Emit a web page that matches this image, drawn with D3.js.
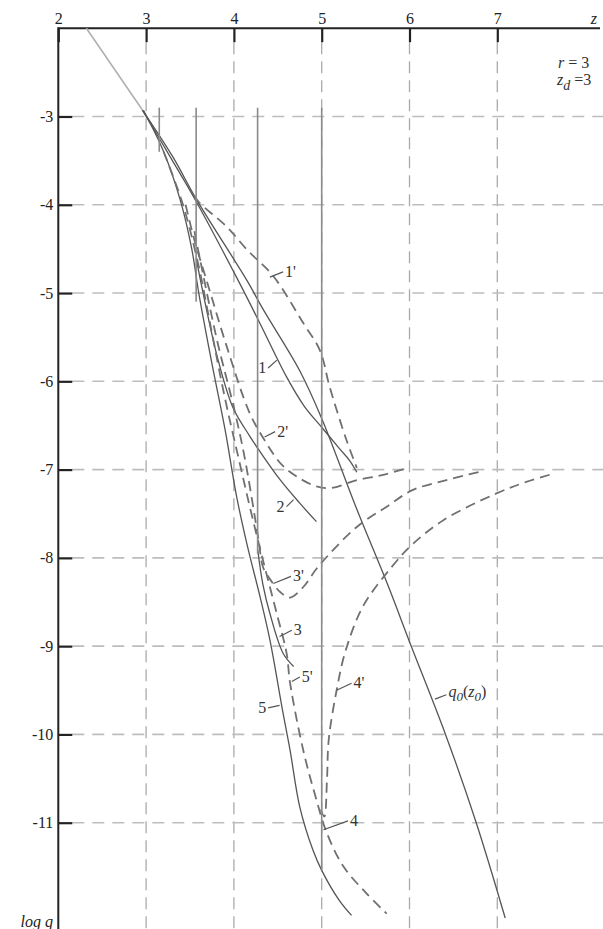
<!DOCTYPE html>
<html>
<head>
<meta charset="utf-8">
<script src="https://cdn.jsdelivr.net/npm/d3@7"></script>
<style>
  html, body { margin: 0; background: #fff; }
  svg { display: block; font-family: "Liberation Serif", "Times New Roman", serif; }
</style>
</head>
<body>
<div id="chart"></div>
<script>
/* log q vs z trajectories, r = 3, z_d = 3 */

const zTicks = [2, 3, 4, 5, 6, 7];
const logqTicks = [-3, -4, -5, -6, -7, -8, -9, -10, -11];

// [z, log q] points
const q0Lead = [[2.32, -2.0], [2.96, -2.93]];
const q0Curve = [[2.96, -2.93], [3.3, -3.45], [3.58, -3.95], [4.15, -4.86], [4.33, -5.18], [4.75, -5.88],
  [5.0, -6.42], [5.4, -7.45], [5.75, -8.3], [6.0, -8.95], [6.41, -10.0], [6.76, -11.0], [7.09, -12.08]];
const curve1 = [[2.96, -2.93], [3.3, -3.5], [3.58, -3.98], [4.05, -4.86], [4.30, -5.35], [4.60, -5.95],
  [4.8, -6.28], [5.0, -6.52], [5.2, -6.76], [5.32, -6.9], [5.40, -7.03]];
const curve1d = [[3.55, -3.9], [3.61, -3.98], [3.92, -4.25], [4.15, -4.51], [4.45, -4.81], [4.79, -5.34],
  [4.98, -5.65], [5.09, -6.06], [5.28, -6.66], [5.40, -6.98]];
const curve2 = [[3.57, -4.6], [3.62, -4.86], [3.81, -5.72], [3.99, -6.3], [4.18, -6.62], [4.3, -6.8],
  [4.53, -7.12], [4.75, -7.38], [4.94, -7.59]];
const curve2d = [[3.45, -4.0], [3.55, -4.4], [3.69, -4.86], [3.92, -5.61], [4.18, -6.36], [4.37, -6.70],
  [4.55, -6.95], [4.75, -7.10], [4.94, -7.19], [5.1, -7.21], [5.4, -7.12], [5.7, -7.06], [5.95, -6.99]];
const curve3 = [[4.27, -7.9], [4.33, -8.3], [4.41, -8.63], [4.56, -9.08], [4.68, -9.23]];
const curve3d = [[3.55, -4.3], [3.8, -5.5], [4.0, -6.3], [4.12, -6.85], [4.28, -7.79], [4.33, -8.1],
  [4.41, -8.24], [4.53, -8.39], [4.64, -8.45], [4.79, -8.33], [4.96, -8.1], [5.40, -7.65],
  [5.74, -7.42], [6.04, -7.23], [6.42, -7.12], [6.82, -7.02]];
const curve4d = [[4.99, -10.85], [5.03, -10.93], [5.06, -10.52], [5.08, -10.06], [5.17, -9.5],
  [5.27, -9.06], [5.47, -8.55], [5.80, -8.10], [6.03, -7.85], [6.39, -7.57], [6.99, -7.27],
  [7.33, -7.14], [7.66, -7.04]];
const curve5 = [[2.97, -2.93], [3.2, -3.4], [3.39, -3.95], [3.52, -4.5], [3.6, -5.0], [3.75, -5.8],
  [3.9, -6.55], [4.03, -7.3], [4.15, -7.85], [4.3, -8.45], [4.41, -8.93], [4.56, -9.76], [4.64, -10.18],
  [4.75, -10.82], [4.9, -11.31], [5.0, -11.54], [5.2, -11.88], [5.34, -12.05]];
const curve5d = [[3.2, -3.4], [3.42, -4.0], [3.6, -4.7], [3.72, -5.3], [3.9, -6.2], [4.06, -6.9],
  [4.2, -7.5], [4.35, -8.1], [4.48, -8.6], [4.60, -9.08], [4.64, -9.42], [4.79, -10.18], [4.92, -10.67],
  [5.06, -11.12], [5.25, -11.5], [5.51, -11.8], [5.74, -12.03]];

// vertical starts of the trajectories: z, top, bottom
const verticals = [[3.15, -2.9, -3.4], [3.57, -2.9, -5.1], [4.27, -2.9, -7.95], [5.0, -2.9, -11.54]];

// curve labels: text, point on curve, end of leader, side
const curveLabels = [
  ["1'", [4.41, -4.82], [4.56, -4.76], "start"],
  ["1", [4.49, -5.76], [4.39, -5.85], "end"],
  ["2'", [4.35, -6.63], [4.47, -6.57], "start"],
  ["2", [4.68, -7.34], [4.60, -7.42], "end"],
  ["3'", [4.45, -8.29], [4.65, -8.21], "start"],
  ["3", [4.52, -8.89], [4.66, -8.82], "start"],
  ["5'", [4.66, -9.40], [4.75, -9.35], "start"],
  ["4'", [5.17, -9.50], [5.34, -9.42], "start"],
  ["5", [4.52, -9.67], [4.39, -9.70], "end"],
  ["4", [5.02, -11.08], [5.30, -10.98], "start"]
];
const q0Label = [[6.29, -9.60], [6.42, -9.55]];

const W = 603, H = 929;
const FONT = "Liberation Serif";
const svg = d3.select("#chart").append("svg").attr("width", W).attr("height", H);
svg.append("rect").attr("width", W).attr("height", H).attr("fill", "#fff");

const x = d3.scaleLinear().domain([2, 7]).range([58.3, 497.3]);
const y = d3.scaleLinear().domain([-2, -11]).range([28.2, 822.7]);
const x0 = x(2), y0 = y(-2);

// --- grid ---
svg.append("g").selectAll("line")
  .data(zTicks.filter(d => d > 2))
  .join("line")
  .attr("x1", d => x(d)).attr("x2", d => x(d))
  .attr("y1", y0 + 14).attr("y2", H)
  .attr("stroke", "#aaa").attr("stroke-width", 1.3)
  .attr("stroke-dasharray", "12,7");

svg.append("g").selectAll("line")
  .data(logqTicks)
  .join("line")
  .attr("x1", x0 + 14).attr("x2", W)
  .attr("y1", d => y(d)).attr("y2", d => y(d))
  .attr("stroke", "#bdbdbd").attr("stroke-width", 1.6)
  .attr("stroke-dasharray", "12,8");

// --- axes ---
const axTop = svg.append("g").attr("transform", `translate(0,${y0})`)
  .call(d3.axisTop(x).tickValues(zTicks).tickSize(-14).tickPadding(4).tickFormat(d3.format("d")));
axTop.attr("font-family", FONT);
axTop.select(".domain").remove();
axTop.selectAll(".tick line").attr("stroke", "#222").attr("stroke-width", 2.2);
axTop.selectAll(".tick text").attr("font-size", 16).attr("fill", "#222");

const axLeft = svg.append("g").attr("transform", `translate(${x0},0)`)
  .call(d3.axisLeft(y).tickValues(logqTicks).tickSize(-14).tickPadding(5).tickFormat(d => String(d)));
axLeft.attr("font-family", FONT);
axLeft.select(".domain").remove();
axLeft.selectAll(".tick line").attr("stroke", "#222").attr("stroke-width", 2.2);
axLeft.selectAll(".tick text").attr("font-size", 16).attr("fill", "#222");

svg.append("line").attr("x1", x0).attr("x2", 600).attr("y1", y0).attr("y2", y0)
  .attr("stroke", "#222").attr("stroke-width", 2);
svg.append("line").attr("x1", x0).attr("x2", x0).attr("y1", y0 - 1).attr("y2", H)
  .attr("stroke", "#222").attr("stroke-width", 2);

svg.append("text").attr("x", 597).attr("y", 24).attr("text-anchor", "end")
  .attr("font-size", 16).attr("font-style", "italic").attr("fill", "#222").text("z");
svg.append("text").attr("x", 53).attr("y", 927).attr("text-anchor", "end")
  .attr("font-size", 16).attr("font-style", "italic").attr("fill", "#222").text("log q");

const params = svg.append("g").attr("font-size", 16).attr("fill", "#333");
const r = params.append("text").attr("x", 558).attr("y", 68);
r.append("tspan").attr("font-style", "italic").text("r");
r.append("tspan").text(" = 3");
const zd = params.append("text").attr("x", 557).attr("y", 85);
zd.append("tspan").attr("font-style", "italic").text("z");
zd.append("tspan").attr("font-style", "italic").attr("font-size", 14).attr("dy", 5).text("d");
zd.append("tspan").attr("dy", -5).text(" =3");

// --- curves ---
const line = d3.line().x(d => x(d[0])).y(d => y(d[1])).curve(d3.curveCatmullRom.alpha(0.5));
const curves = svg.append("g").attr("fill", "none");

svg.append("g").selectAll("line")
  .data(verticals)
  .join("line")
  .attr("x1", d => x(d[0])).attr("x2", d => x(d[0]))
  .attr("y1", d => y(d[1])).attr("y2", d => y(d[2]))
  .attr("stroke", "#8a8a8a").attr("stroke-width", 1.6);

curves.append("path").attr("d", line(q0Lead)).attr("stroke", "#b0b0b0").attr("stroke-width", 1.6);

[q0Curve, curve1, curve2, curve3, curve5].forEach(c => {
  curves.append("path").attr("d", line(c))
    .attr("stroke", "#555").attr("stroke-width", 1.3);
});
[curve1d, curve2d, curve3d, curve4d, curve5d].forEach(c => {
  curves.append("path").attr("d", line(c))
    .attr("stroke", "#707070").attr("stroke-width", 1.8)
    .attr("stroke-dasharray", "10,6");
});

// --- labels with leader ticks ---
const labels = svg.append("g").attr("font-size", 16).attr("fill", "#333");
curveLabels.forEach(([txt, p, t, side]) => {
  labels.append("line")
    .attr("x1", x(p[0])).attr("y1", y(p[1]))
    .attr("x2", x(t[0])).attr("y2", y(t[1]))
    .attr("stroke", "#555").attr("stroke-width", 1.2);
  labels.append("text")
    .attr("x", x(t[0]) + (side === "start" ? 2 : -2))
    .attr("y", y(t[1]) + 5)
    .attr("text-anchor", side)
    .text(txt);
});

labels.append("line")
  .attr("x1", x(q0Label[0][0])).attr("y1", y(q0Label[0][1]))
  .attr("x2", x(q0Label[1][0])).attr("y2", y(q0Label[1][1]))
  .attr("stroke", "#555").attr("stroke-width", 1.2);
const ql = labels.append("text")
  .attr("x", x(q0Label[1][0]) + 2).attr("y", y(q0Label[1][1]) + 2);
ql.append("tspan").attr("font-style", "italic").text("q");
ql.append("tspan").attr("font-style", "italic").attr("font-size", 13).attr("dy", 4).text("0");
ql.append("tspan").attr("dy", -4).text("(");
ql.append("tspan").attr("font-style", "italic").text("z");
ql.append("tspan").attr("font-style", "italic").attr("font-size", 13).attr("dy", 4).text("0");
ql.append("tspan").attr("dy", -4).text(")");
</script>
</body>
</html>
